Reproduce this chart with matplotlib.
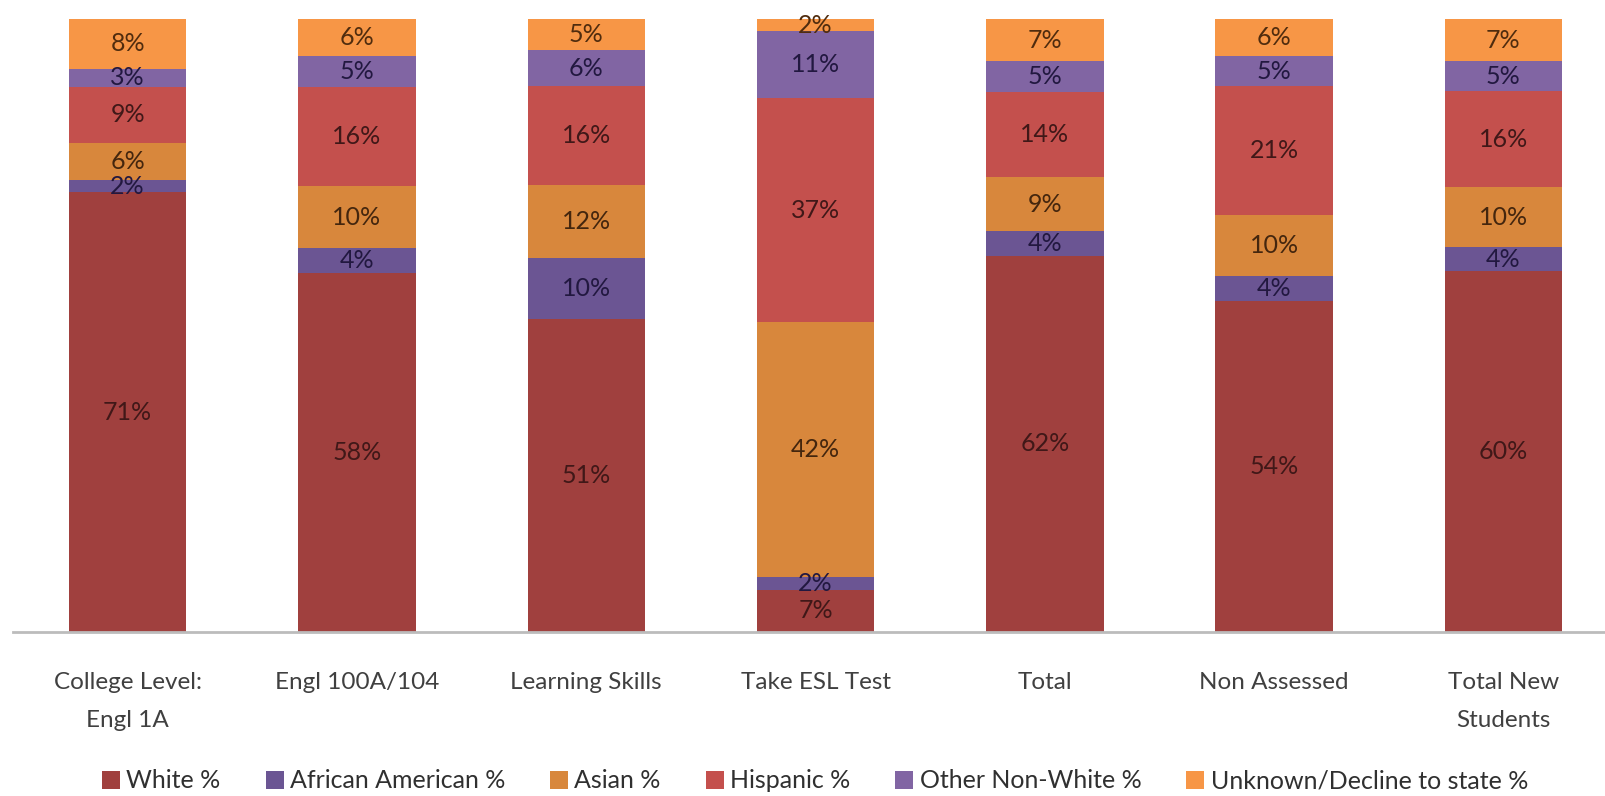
import numpy as np
import matplotlib
matplotlib.use("Agg")
import matplotlib.pyplot as plt

# Data (percent of each group)
categories = ["College Level:\nEngl 1A", "Engl 100A/104", "Learning Skills", "Take ESL Test",
              "Total", "Non Assessed", "Total New\nStudents"]
white = [71, 58, 51, 7, 62, 54, 60]
african_american = [2, 4, 10, 2, 4, 4, 4]
asian = [6, 10, 12, 42, 9, 10, 10]
hispanic = [9, 16, 16, 37, 14, 21, 16]
other_non_white = [3, 5, 6, 11, 5, 5, 5]
unknown = [8, 6, 5, 2, 7, 6, 7]

series_names = ["White %", "African American %", "Asian %", "Hispanic %",
                "Other Non-White %", "Unknown/Decline to state %"]
series = [white, african_american, asian, hispanic, other_non_white, unknown]
colors = ["#A0403E", "#6B5593", "#D8873C", "#C4504D", "#8165A3", "#F79646"]
text_colors = ["#401818", "#221840", "#44260e", "#401818", "#221840", "#502c0e"]

plt.rcParams['font.family'] = ['Lato', 'DejaVu Sans']

fig = plt.figure(figsize=(16.05, 7.96), dpi=100)
ax = fig.add_axes([13 / 1605, 1 - 632 / 796, 1 - 13 / 1605, (632 - 19) / 796])

data = np.array(series, dtype=float)
totals = data.sum(axis=0)
shares = data / totals  # 100% stacked, like the original

x = np.arange(len(categories))
bottom = np.zeros(len(categories))
handles = []
for i, name in enumerate(series_names):
    bars = ax.bar(x, shares[i], 0.512, bottom=bottom, color=colors[i], label=name)
    handles.append(bars)
    for j in range(len(categories)):
        ax.text(x[j], bottom[j] + shares[i][j] / 2, f"{series[i][j]}%",
                ha="center", va="center", fontsize=18, color=text_colors[i])
    bottom += shares[i]

ax.set_xlim(-0.5, 6.443)
ax.set_ylim(0, 1)
ax.set_yticks([])
ax.set_xticks(x)
ax.set_xticklabels(categories, fontsize=17.5, color="#404040")
for lbl in ax.get_xticklabels():
    lbl.set_linespacing(2.0)
ax.tick_params(axis="x", length=0, pad=29)
for side in ["top", "right", "left"]:
    ax.spines[side].set_visible(False)
ax.spines["bottom"].set_color("#bcbcbc")
ax.spines["bottom"].set_linewidth(2)

fig.legend(handles=handles, labels=series_names, loc="center",
           bbox_to_anchor=(815 / 1605, 1 - 781 / 796), ncol=6, frameon=False,
           fontsize=18, handlelength=0.72, handleheight=0.72, handletextpad=0.25,
           columnspacing=1.8, labelcolor="#303030", borderpad=0, borderaxespad=0)

fig.savefig("out.png", dpi=100, facecolor="white")
